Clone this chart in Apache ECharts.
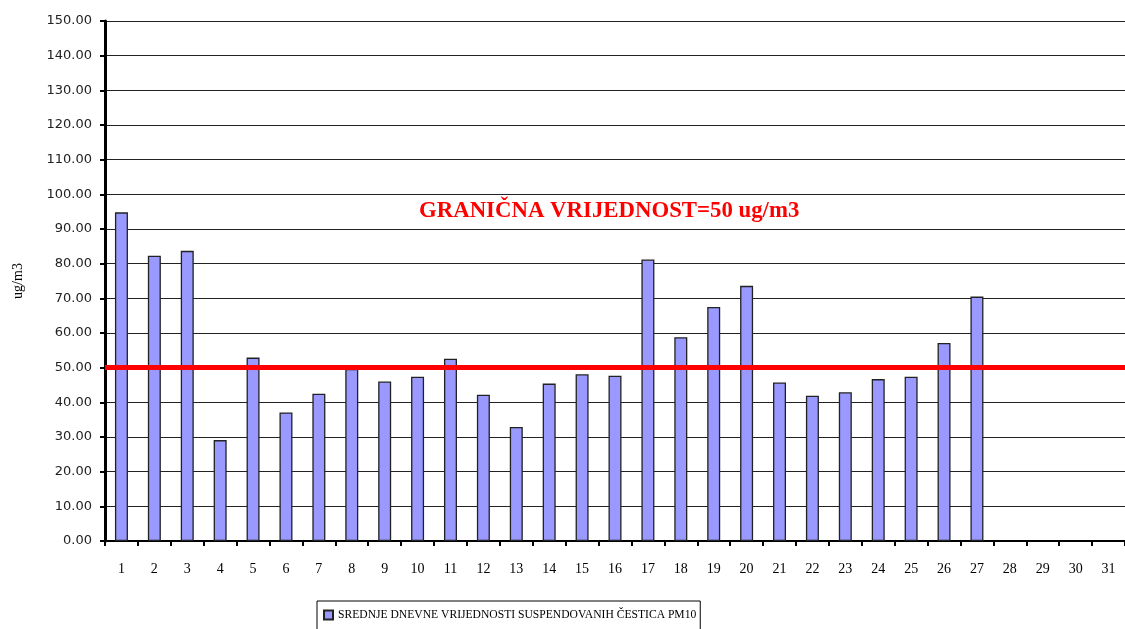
<!DOCTYPE html>
<html>
<head>
<meta charset="utf-8">
<script src="https://cdn.jsdelivr.net/npm/echarts@6/dist/echarts.min.js"></script>
<style>
  html, body { margin: 0; padding: 0; background: #fff; }
  #chart { width: 1125px; height: 629px; }
</style>
</head>
<body>
<div id="chart"></div>
<script>
const days = ['1','2','3','4','5','6','7','8','9','10','11','12','13','14','15','16','17','18','19','20','21','22','23','24','25','26','27','28','29','30','31'];
const pm10 = [94.8, 82.3, 83.7, 29.1, 52.9, 37.1, 42.5, 49.6, 46.0, 47.4, 52.6, 42.2, 32.9, 45.4, 48.1, 47.7, 81.2, 58.8, 67.5, 73.6, 45.7, 41.9, 42.9, 46.7, 47.4, 57.1, 70.5, null, null, null, null];
const limitValue = 50;
const seriesName = 'SREDNJE DNEVNE VRIJEDNOSTI SUSPENDOVANIH ČESTICA PM10';
const limitLabel = 'GRANIČNA VRIJEDNOST=50 ug/m3';
const yAxisName = 'ug/m3';

const chart = echarts.init(document.getElementById('chart'));
chart.setOption({
  animation: false,
  backgroundColor: '#ffffff',
  title: {
    text: limitLabel,
    left: 419,
    top: 200,
    padding: 0,
    textStyle: { fontFamily: 'Liberation Serif', fontWeight: 'bold', fontSize: 22.8, color: '#ff0000' }
  },
  legend: {
    left: 317,
    top: 601,
    padding: [8, 4, 12, 6],
    borderColor: '#000',
    borderWidth: 1,
    itemWidth: 9,
    itemHeight: 9,
    itemGap: 4,
    textStyle: { fontFamily: 'Liberation Serif', fontSize: 11.6, color: '#000' },
    data: [{ name: seriesName, icon: 'rect' }]
  },
  grid: { left: 105, top: 21, width: 1028, height: 520, containLabel: false },
  xAxis: {
    type: 'category',
    data: days,
    axisLine: { lineStyle: { color: '#000', width: 2 } },
    axisTick: { show: true, length: 5, alignWithLabel: false, lineStyle: { color: '#000', width: 2 } },
    axisLabel: { margin: 21, fontFamily: 'Liberation Serif', fontSize: 14, color: '#000', interval: 0 },
    splitLine: { show: false }
  },
  yAxis: {
    type: 'value',
    min: 0,
    max: 150,
    interval: 10,
    name: yAxisName,
    nameLocation: 'middle',
    nameGap: 80,
    nameRotate: 90,
    nameTextStyle: { fontFamily: 'Liberation Serif', fontSize: 14, color: '#000' },
    axisLine: { show: true, lineStyle: { color: '#000', width: 3 } },
    axisTick: { show: true, length: 5, lineStyle: { color: '#000', width: 2 } },
    axisLabel: {
      margin: 13,
      fontFamily: 'DejaVu Sans',
      fontSize: 13,
      color: '#222',
      formatter: v => v.toFixed(2)
    },
    splitLine: { show: true, lineStyle: { color: '#222', width: 1 } }
  },
  series: [{
    name: seriesName,
    type: 'bar',
    data: pm10,
    barWidth: 13,
    itemStyle: { color: '#9999ff', borderColor: '#222', borderWidth: 1.3 },
    markLine: {
      silent: true,
      symbol: 'none',
      label: { show: false },
      lineStyle: { color: '#ff0000', width: 5, type: 'solid' },
      data: [{ yAxis: limitValue }]
    }
  }]
});
</script>
</body>
</html>
